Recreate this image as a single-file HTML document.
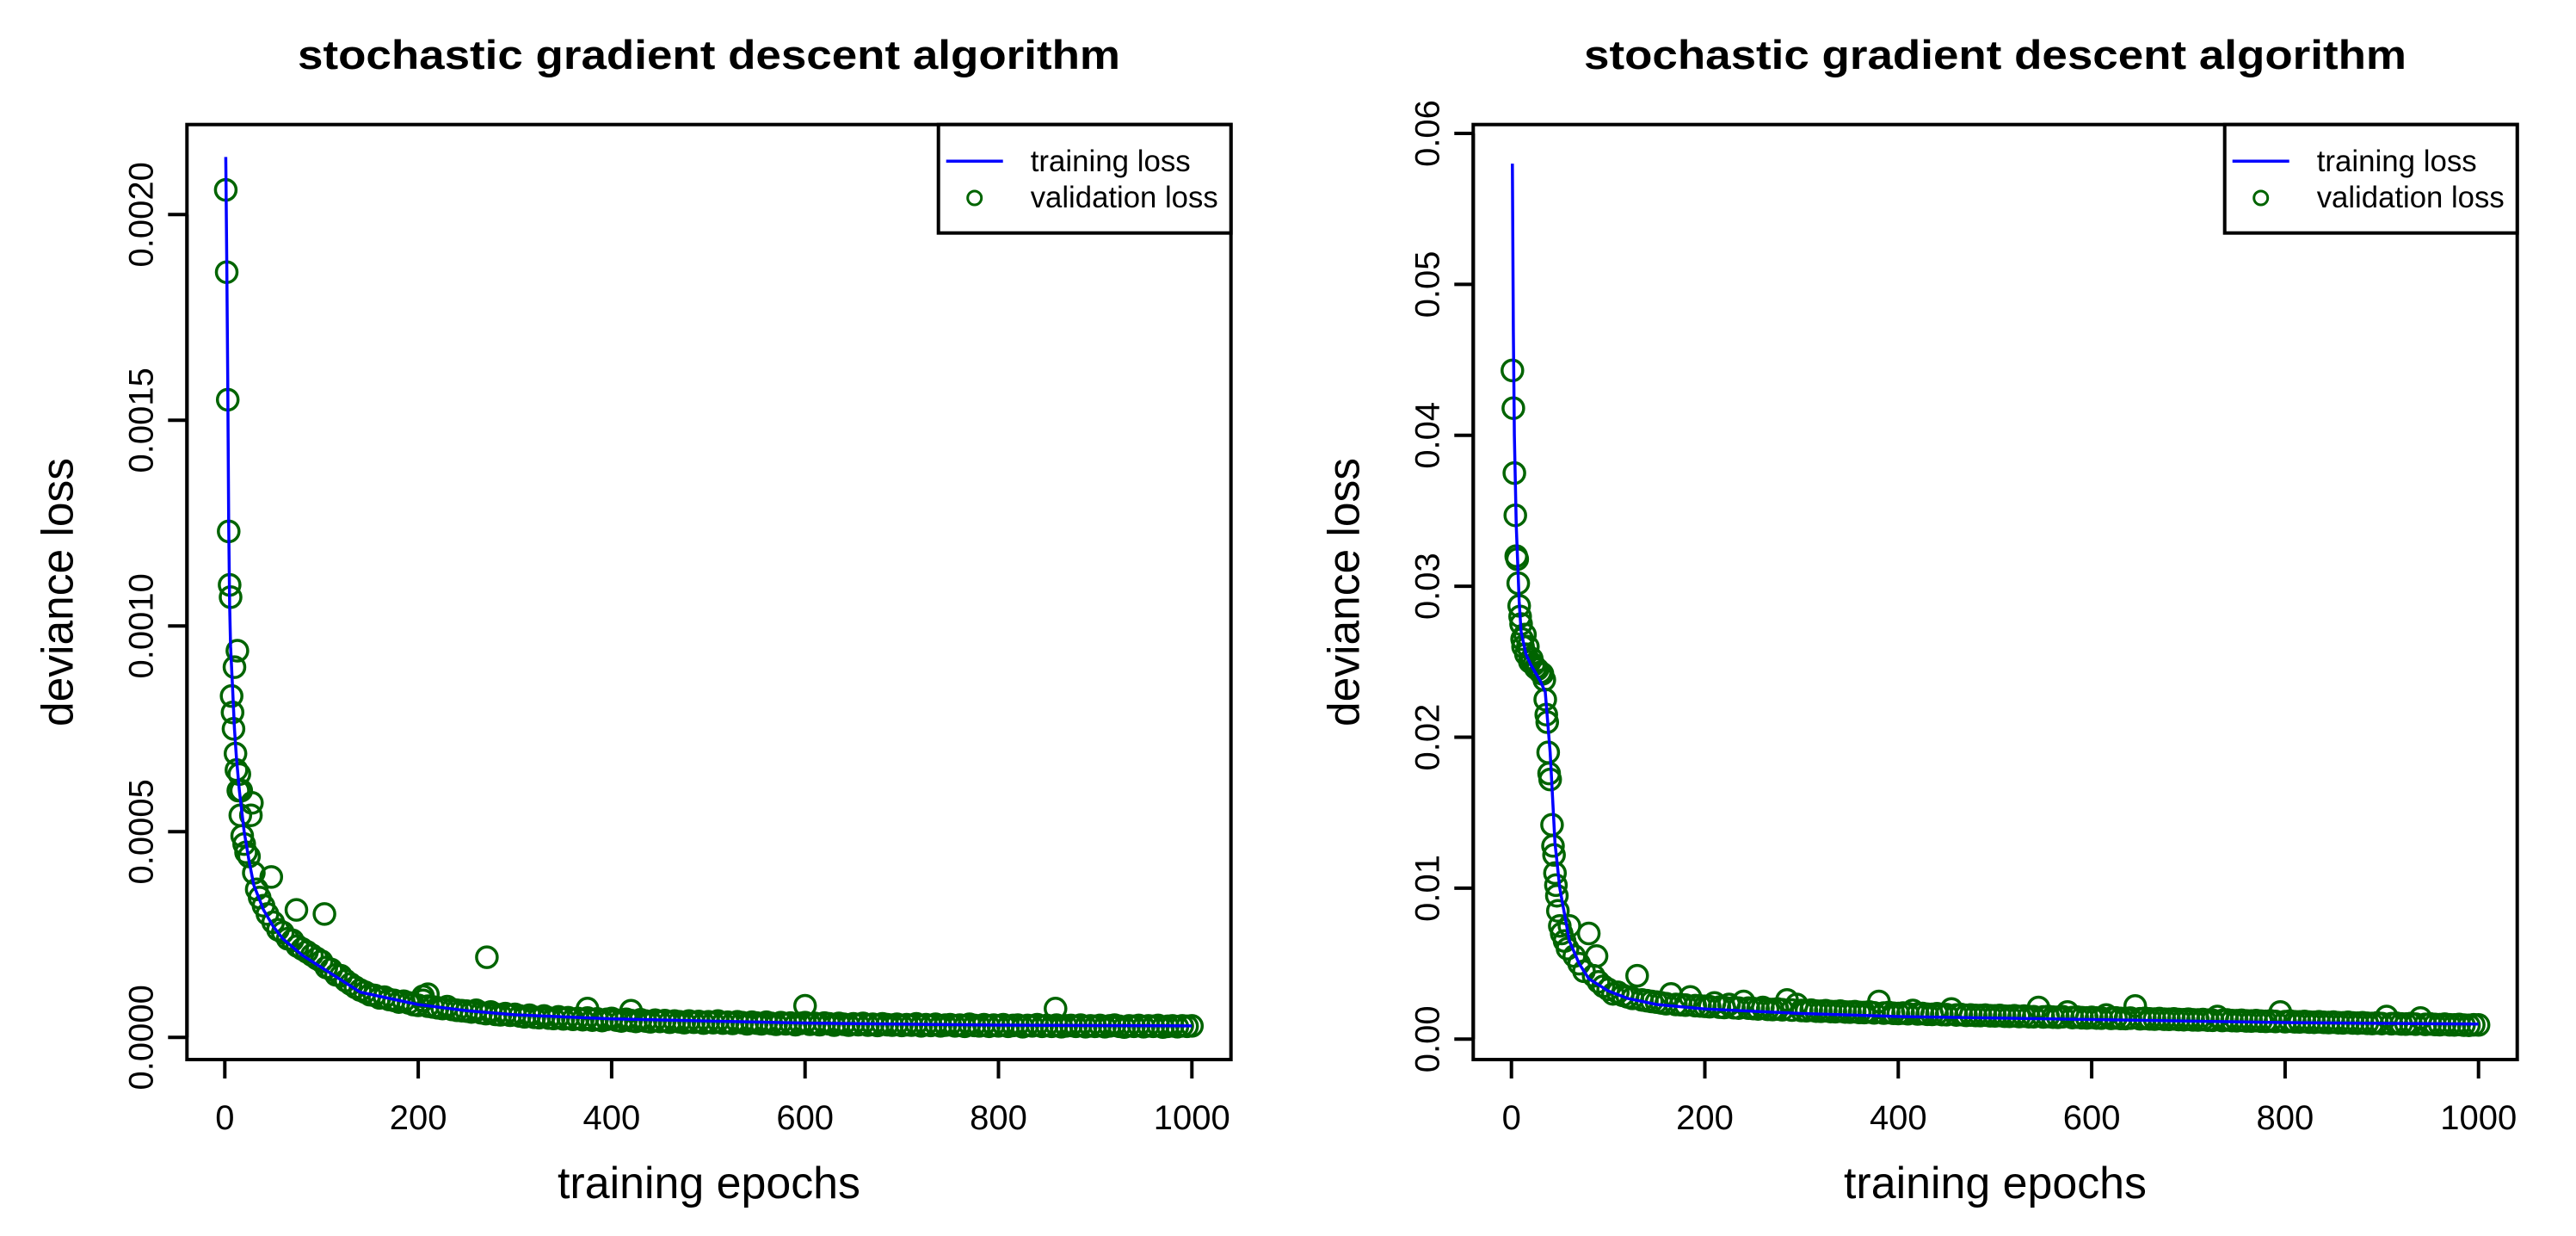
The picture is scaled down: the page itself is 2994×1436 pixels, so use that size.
<!DOCTYPE html>
<html><head><meta charset="utf-8"><style>
html,body{margin:0;padding:0;background:#fff;}
svg{display:block;font-family:"Liberation Sans",Arial,sans-serif;}
</style></head><body>
<svg id="chart" width="2994" height="1436" viewBox="0 0 2994 1436" xmlns="http://www.w3.org/2000/svg"></svg>
<script>
// ---------- LEFT PANEL DATA ----------
const leftTrainEpochs = [1,2,3,4,5,6,8,10,12,15,20,25,30,40,50,60,80,100,120,140,160,200,250,300,400,500,600,800,1000];
const leftTrainLoss = [0.00214,0.0019,0.0016,0.00125,0.00105,0.00095,0.00085,0.00075,0.00068,0.0006,0.0005,0.00043,0.00037,0.00031,0.00027,0.00024,0.0002,0.00017,0.00014,0.00011,0.0001,0.00008,0.000065,0.000055,0.000045,0.00004,0.000035,0.00003,0.000028];
const leftValEarlyEpochs = [1,2,3,4,5,6,7,8,9,10,11,12,13,14,15,16,17,18,20,22,25,27,28,30,33,36,40,44,48,74,103,271,600,859,205,210,375,420];
const leftValEarly = [0.00206,0.00186,0.00155,0.00123,0.0011,0.00107,0.00083,0.00079,0.00075,0.0009,0.00069,0.00065,0.00094,0.0006,0.00064,0.00054,0.0006,0.00049,0.00047,0.00045,0.00044,0.00054,0.00057,0.0004,0.00036,0.00034,0.00032,0.0003,0.00039,0.00031,0.0003,0.000195,0.000077,0.00007,0.0001,0.000105,0.00007,0.000065];
const leftValTailStart = 50, leftValTailStep = 5;
const leftValTailMicro = [280,262,255,240,236,222,215,208,200,192,185,170,165,152,150,138,130,122,115,110,104,102,96,98,92,90,86,88,84,80,78,90,76,74,72,70,75,68,66,65,64,62,66,60,58,62,56,55,58,54,56,52,50,54,49,48,52,47,46,50,45,48,44,46,43,47,42,45,41,44,46,42,40,44,41,39,43,40,38,42,39,41,37,40,38,36,40,37,39,35,38,36,40,35,37,34,38,36,33,37,35,33,37,34,32,36,33,35,31,34,36,32,34,31,35,33,30,34,32,30,33,31,34,30,32,29,33,31,30,32,29,31,30,33,28,31,29,32,28,30,31,28,30,27,32,29,28,31,27,30,28,31,27,29,30,26,29,28,31,27,29,27,30,26,28,29,27,30,26,28,27,29,26,28,30,27,25,28,27,29,26,28,27,29,25,27,28,26,28,27,28];
const leftYTicks = [0,0.0005,0.001,0.0015,0.002];
const leftYTickLabels = ["0.0000","0.0005","0.0010","0.0015","0.0020"];

// ---------- RIGHT PANEL DATA ----------
const rightTrainEpochs = [1,2,3,5,8,10,15,20,30,35,40,45,50,60,70,80,100,120,150,200,300,400,600,800,1000];
const rightTrainLoss = [0.058,0.047,0.040,0.034,0.029,0.027,0.0255,0.0248,0.0237,0.023,0.019,0.013,0.010,0.0065,0.005,0.004,0.0032,0.0027,0.0023,0.002,0.0017,0.0015,0.0013,0.0011,0.001];
const rightValEarlyEpochs = [1,2,3,4,5,6,7,8,9,10,11,12,14,15,17,19,21,23,25,27,30,32,34,35,36,37,38,39,40,42,43,44,45,46,47,48,50,52,55,58,60,65,70,75,80,85,88,90,95];
const rightValEarly = [0.0443,0.0418,0.0375,0.0347,0.032,0.0318,0.0302,0.0287,0.028,0.0275,0.0265,0.026,0.0268,0.0255,0.026,0.025,0.0252,0.0248,0.0246,0.0245,0.0243,0.0242,0.0238,0.0225,0.0215,0.021,0.019,0.0176,0.0172,0.0142,0.0128,0.0122,0.011,0.0102,0.0095,0.0085,0.0075,0.007,0.0065,0.006,0.0075,0.0055,0.005,0.0045,0.007,0.0042,0.0055,0.0038,0.0035];
const rightValTailStart = 100, rightValTailStep = 5;
const rightValTailE5 = [330,300,310,290,280,270,420,260,255,250,245,240,235,300,230,228,225,280,222,220,218,215,240,212,210,230,208,206,250,205,203,200,210,198,196,200,195,260,193,230,190,188,192,186,185,188,183,182,186,180,179,182,177,176,180,174,250,173,176,171,170,173,168,190,167,170,165,164,168,163,162,200,160,163,158,160,157,156,159,155,154,157,152,151,155,150,153,149,148,210,147,150,146,145,148,180,143,146,142,141,144,140,139,160,138,141,137,136,139,220,135,138,134,133,136,132,131,134,130,129,132,128,127,130,126,125,150,124,127,123,122,125,121,120,123,119,118,121,117,180,116,119,115,114,117,113,112,115,111,110,113,109,108,111,107,106,109,105,104,107,103,150,102,105,101,100,103,99,140,98,101,97,96,99,95,94,97,93,92,95,94];
const rightYTicks = [0,0.01,0.02,0.03,0.04,0.05,0.06];
const rightYTickLabels = ["0.00","0.01","0.02","0.03","0.04","0.05","0.06"];

const xTicks = [0,200,400,600,800,1000];
const xTickLabels = ["0","200","400","600","800","1000"];

const NS = "http://www.w3.org/2000/svg";
const svg = document.getElementById("chart");
const TICK_FS = 40;
function mk(tag, attrs, parent){
  const e = document.createElementNS(NS, tag);
  for (const k in attrs) e.setAttribute(k, attrs[k]);
  (parent||svg).appendChild(e);
  return e;
}
function numWidth(s, fs){
  let w = 0;
  for (const ch of s) w += (ch === "." ? 0.278 : 0.556) * fs;
  return w.toFixed(1);
}

function drawPanel(p){
  const g = mk("g", {});
  
  
  const xS = e => p.x0 + e * (p.x1000 - p.x0) / 1000;
  const yS = v => p.y0 - v * (p.y0 - p.yTop) / p.yTopVal;

  const pts = mk("g", {fill:"none", stroke:"#006400", "stroke-width":"3.5"}, g);
  
  
  const allE = [], allV = [];
  p.valEarlyEpochs.forEach((e,i)=>{allE.push(e); allV.push(p.valEarly[i]);});
  p.valTail.forEach((v,i)=>{allE.push(p.tailStart + i*p.tailStep); allV.push(v*p.tailUnit);});
  allE.forEach((e,i)=>{
    const c = mk("circle", {cx:xS(e).toFixed(1), cy:yS(allV[i]).toFixed(1), r:"12"}, pts);
    
    
  });

  const d = p.trainEpochs.map((e,i)=>(i?"L":"M")+xS(e).toFixed(1)+" "+yS(p.trainLoss[i]).toFixed(1)).join(" ");
  const ln = mk("path", {d:d, fill:"none", stroke:"#0000FF", "stroke-width":"3.5"}, g);
  
  

  const box = mk("rect", {x:p.bx, y:144.7, width:1213.4, height:1086.3, fill:"none", stroke:"#000", "stroke-width":"4"}, g);
  
  

  const xa = mk("g", {}, g);
  
  
  mk("line", {x1:xS(xTicks[0]), x2:xS(xTicks[xTicks.length-1]), y1:1231, y2:1231, stroke:"#000","stroke-width":"4"}, xa);
  xTicks.forEach((t,i)=>{
    mk("line", {x1:xS(t), x2:xS(t), y1:1231, y2:1253, stroke:"#000","stroke-width":"4"}, xa);
    const tx = mk("text", {x:xS(t), y:1312, "font-size":TICK_FS, "text-anchor":"middle", textLength:numWidth(xTickLabels[i],TICK_FS), lengthAdjust:"spacingAndGlyphs"}, xa);
    tx.textContent = xTickLabels[i];
    
    
  });

  const ya = mk("g", {}, g);
  
  
  mk("line", {x1:p.bx, x2:p.bx, y1:yS(p.yTicks[0]), y2:yS(p.yTicks[p.yTicks.length-1]), stroke:"#000","stroke-width":"4"}, ya);
  p.yTicks.forEach((t,i)=>{
    const y = yS(t);
    mk("line", {x1:p.bx-22, x2:p.bx, y1:y, y2:y, stroke:"#000","stroke-width":"4"}, ya);
    const lx = p.bx - 40;
    const tx = mk("text", {x:lx, y:y, "font-size":TICK_FS, "text-anchor":"middle", textLength:numWidth(p.yTickLabels[i],TICK_FS), lengthAdjust:"spacingAndGlyphs", transform:`rotate(-90 ${lx} ${y})`}, ya);
    tx.textContent = p.yTickLabels[i];
    
    
  });

  const cx = p.bx + 606.7;
  const title = mk("text", {x:cx, y:80, "font-size":"47", "font-weight":"bold", "text-anchor":"middle", textLength:"956", lengthAdjust:"spacingAndGlyphs"}, g);
  title.textContent = "stochastic gradient descent algorithm";
  
  
  const xt = mk("text", {x:cx, y:1392, "font-size":"52", "text-anchor":"middle", textLength:"352", lengthAdjust:"spacingAndGlyphs"}, g);
  xt.textContent = "training epochs";
  
  
  const ylx = p.bx - 133, yly = 688;
  const yt = mk("text", {x:ylx, y:yly, "font-size":"52", "text-anchor":"middle", textLength:"312", lengthAdjust:"spacingAndGlyphs", transform:`rotate(-90 ${ylx} ${yly})`}, g);
  yt.textContent = "deviance loss";
  
  

  const lg = mk("g", {}, g);
  
  
  const lx0 = p.bx + 1213.4 - 340;
  mk("rect", {x:lx0, y:144.7, width:340, height:126, fill:"#fff", stroke:"#000", "stroke-width":"4"}, lg);
  mk("line", {x1:lx0+9, x2:lx0+75, y1:187.3, y2:187.3, stroke:"#0000FF", "stroke-width":"3.5"}, lg);
  mk("circle", {cx:lx0+42, cy:230, r:"8", fill:"none", stroke:"#006400", "stroke-width":"3"}, lg);
  const t1 = mk("text", {x:lx0+107, y:199, "font-size":"35", textLength:"186", lengthAdjust:"spacingAndGlyphs"}, lg);
  t1.textContent = "training loss";
  
  
  const t2 = mk("text", {x:lx0+107, y:241, "font-size":"35", textLength:"218", lengthAdjust:"spacingAndGlyphs"}, lg);
  t2.textContent = "validation loss";
  
  
}

drawPanel({name:"left-panel", bx:217.3, x0:261.3, x1000:1385.3, y0:1205.3, yTop:249.3, yTopVal:0.002,
  trainEpochs:leftTrainEpochs, trainLoss:leftTrainLoss, valEarlyEpochs:leftValEarlyEpochs, valEarly:leftValEarly,
  valTail:leftValTailMicro, tailStart:leftValTailStart, tailStep:leftValTailStep, tailUnit:1e-6,
  yTicks:leftYTicks, yTickLabels:leftYTickLabels});
drawPanel({name:"right-panel", bx:1712.3, x0:1756.7, x1000:2880.7, y0:1207.3, yTop:155, yTopVal:0.06,
  trainEpochs:rightTrainEpochs, trainLoss:rightTrainLoss, valEarlyEpochs:rightValEarlyEpochs, valEarly:rightValEarly,
  valTail:rightValTailE5, tailStart:rightValTailStart, tailStep:rightValTailStep, tailUnit:1e-5,
  yTicks:rightYTicks, yTickLabels:rightYTickLabels});
</script>
</body></html>
